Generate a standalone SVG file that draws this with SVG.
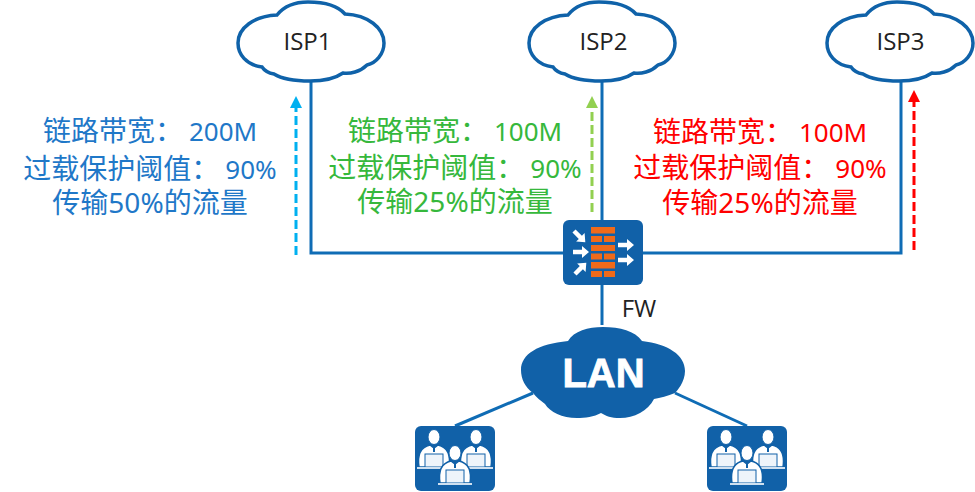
<svg xmlns="http://www.w3.org/2000/svg" width="975" height="492" viewBox="0 0 975 492">
<style>
.ln{stroke:#0f6cb5;stroke-width:3;fill:none}
.cloud{fill:#fff;stroke:#0f62a9;stroke-width:3.500}
.lbl{font-family:"Noto Sans CJK SC","Noto Sans",sans-serif;font-size:28px;text-anchor:middle}
.n{font-family:"Noto Sans","Noto Sans CJK SC",sans-serif;font-size:26px}
.m{font-family:"Noto Sans","Noto Sans CJK SC",sans-serif;font-size:28px}
.isp{font-family:"Open Sans","Noto Sans",sans-serif;font-size:24px;text-anchor:middle;fill:#222}
.blue{fill:#1f78c8}.green{fill:#36b83c}.red{fill:#ff0000}
.brick{fill:#ef6a1a}
.box{fill:#1161a8}
</style>
<defs>
<path id="c" d="M262 67C246 65 238 54 238 43C238 28 254 16 277 15C285 5 296 2 308 2C324 2 338 6 345 14C368 15 384 28 384 43C384 54 376 63 367 65C360 72 350 74 343 73C333 80 322 81 310 81C295 81 282 79 274 74C268 73 264 70 262 67Z"/>
<path id="ar" d="M0 -2.200H9V-6L16 0L9 6V2.200H0Z" fill="#fff"/>
<g id="p">
<path d="M-15 30C-17 17 -13 10 -4 8L0 11L4 8C13 10 17 17 15 30Z" fill="#fff" stroke="#1161a8" stroke-width="1.500"/>
<ellipse cx="0" cy="0" rx="6" ry="7.500" fill="#fff" stroke="#1161a8" stroke-width="1"/>
<rect x="-9" y="17" width="18" height="13" fill="#eef4fa" stroke="#1161a8" stroke-width="1"/>
<rect x="-17" y="30" width="34" height="2" fill="#cfe0f0"/>
<path d="M-1 9H1V15H-1Z" fill="#1161a8"/>
</g>
<g id="u">
<rect x="0" y="0" width="80" height="65" rx="6" class="box"/>
<use href="#p" x="19" y="11"/>
<use href="#p" x="61" y="11"/>
<use href="#p" x="40" y="27"/>
</g>
<marker id="mb" markerWidth="4" markerHeight="4" refX="2" refY="2" orient="auto"><path d="M0 0L4 2L0 4Z" fill="#00b0f0"/></marker>
<marker id="mg" markerWidth="4" markerHeight="4" refX="2" refY="2" orient="auto"><path d="M0 0L4 2L0 4Z" fill="#92d050"/></marker>
<marker id="mr" markerWidth="4" markerHeight="4" refX="2" refY="2" orient="auto"><path d="M0 0L4 2L0 4Z" fill="#ff0000"/></marker>
</defs>
<rect width="975" height="492" fill="#fff"/>
<g id="connectors">
<path class="ln" d="M311 82V253H901V82"/>
<path class="ln" d="M602 82V325"/>
<path class="ln" d="M533 393L455 426"/>
<path class="ln" d="M675 393L747 426"/>
<path d="M296 255V102" stroke="#00b0f0" stroke-width="3" stroke-dasharray="9 4" fill="none" marker-end="url(#mb)"/>
<path d="M592 212V102" stroke="#92d050" stroke-width="3" stroke-dasharray="9 4" fill="none" marker-end="url(#mg)"/>
<path d="M914 250V96" stroke="#ff0000" stroke-width="3" stroke-dasharray="9 4" fill="none" marker-end="url(#mr)"/>
</g>
<g id="isp1"><use href="#c" class="cloud"/><text class="isp" x="307.500" y="50">ISP1</text></g>
<g id="isp2"><use href="#c" class="cloud" x="291"/><text class="isp" x="603.500" y="50">ISP2</text></g>
<g id="isp3"><use href="#c" class="cloud" x="589"/><text class="isp" x="900.500" y="50">ISP3</text></g>
<g id="label1" class="blue">
<text class="lbl" x="150" y="141">链路带宽&#xFF1A;<tspan class="n" dx="6">200M</tspan></text>
<text class="lbl" x="150" y="179">过载保护阈值&#xFF1A;<tspan class="n" dx="6">90%</tspan></text>
<text class="lbl" x="150" y="213">传输<tspan class="m">50%</tspan>的流量</text>
</g>
<g id="label2" class="green">
<text class="lbl" x="455" y="141">链路带宽&#xFF1A;<tspan class="n" dx="6">100M</tspan></text>
<text class="lbl" x="455" y="178">过载保护阈值&#xFF1A;<tspan class="n" dx="6">90%</tspan></text>
<text class="lbl" x="455" y="212">传输<tspan class="m">25%</tspan>的流量</text>
</g>
<g id="label3" class="red">
<text class="lbl" x="760" y="142">链路带宽&#xFF1A;<tspan class="n" dx="6">100M</tspan></text>
<text class="lbl" x="760" y="178">过载保护阈值&#xFF1A;<tspan class="n" dx="6">90%</tspan></text>
<text class="lbl" x="760" y="213">传输<tspan class="m">25%</tspan>的流量</text>
</g>
<g id="fw">
<rect x="563" y="220" width="80" height="65" rx="6" class="box"/>
<rect class="brick" x="591" y="227" width="24" height="6.500"/>
<rect class="brick" x="591" y="236" width="11" height="6"/><rect class="brick" x="604" y="236" width="11" height="6"/>
<rect class="brick" x="591" y="245" width="24" height="6"/>
<rect class="brick" x="591" y="253.500" width="11" height="6"/><rect class="brick" x="604" y="253.500" width="11" height="6"/>
<rect class="brick" x="591" y="262" width="24" height="6.500"/>
<rect class="brick" x="591" y="271" width="11" height="6"/><rect class="brick" x="604" y="271" width="11" height="6"/>
<use href="#ar" transform="translate(574 231) rotate(45)"/>
<use href="#ar" transform="translate(573 252)"/>
<use href="#ar" transform="translate(575 274) rotate(-45)"/>
<use href="#ar" transform="translate(618 245)"/>
<use href="#ar" transform="translate(618 260)"/>
<text x="639" y="317" font-family="'Open Sans','Noto Sans',sans-serif" font-size="24" text-anchor="middle" fill="#222">FW</text>
</g>
<g id="lan">
<path class="box" d="M533 393C525 387 521 379 521 370C521 354 538 344 568 341C574 331 588 327 603 327C620 327 635 331 642 341C668 344 685 355 685 371C685 382 677 391 675 393C668 396 660 398 654 399C648 411 634 418 620 418C611 418 606 416 601 413C594 417 585 418 577 418C562 418 550 412 545 404C541 401 536 397 533 393Z"/>
<text x="603.500" y="387" font-family="'Liberation Sans',Arial,sans-serif" font-weight="700" font-size="40" text-anchor="middle" fill="#fff" stroke="#fff" stroke-width="0.800">LAN</text>
</g>
<g id="users1"><use href="#u" x="415" y="426"/></g>
<g id="users2"><use href="#u" x="707" y="426"/></g>
</svg>
